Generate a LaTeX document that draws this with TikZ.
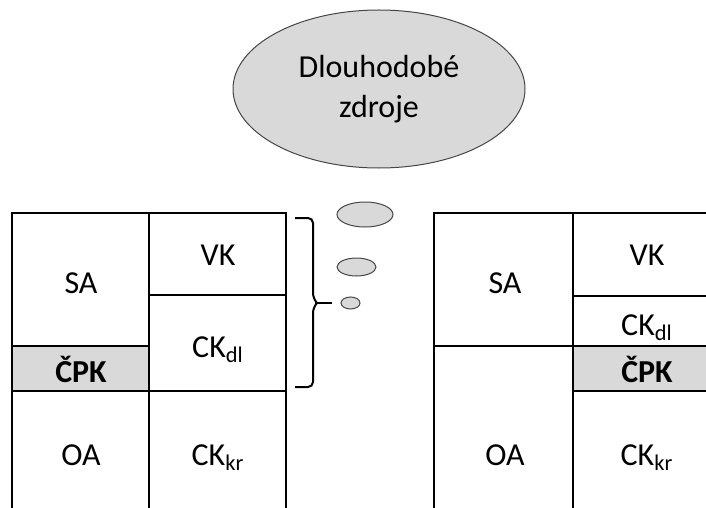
\documentclass[tikz,border=0pt]{standalone}
\usepackage{fontspec}
\setmainfont{Carlito}
\usetikzlibrary{shapes.geometric}
\definecolor{cpkgray}{RGB}{217,217,217}
\definecolor{edgegray}{RGB}{70,70,70}

\tikzset{
  cell/.style={font=\fontsize{16}{19}\selectfont,anchor=base,inner sep=0pt},
  bubble/.style={ellipse,draw=edgegray,fill=cpkgray,line width=0.5pt,inner sep=0pt},
  outer/.style={line width=1.4pt},
  inner/.style={line width=0.6pt},
  braceline/.style={line width=1pt,rounded corners=2.5pt}
}

\begin{document}
\begin{tikzpicture}[x=0.5pt,y=-0.5pt]
  \useasboundingbox (0,0) rectangle (706,508);
  \clip (0,0) rectangle (706,508);
  % thought cloud
  \node[bubble,minimum width=146pt,minimum height=79pt,align=center,
        font=\fontsize{16}{20}\selectfont] (zdroje) at (379,89) {Dlouhodobé\\zdroje};
  \node[bubble,minimum width=28pt,minimum height=12.5pt] (b1) at (365,214.5) {};
  \node[bubble,minimum width=19.5pt,minimum height=9pt] (b2) at (356.5,267) {};
  \node[bubble,minimum width=9.5pt,minimum height=6pt] (b3) at (350.5,303) {};

  % left table
  \fill[cpkgray] (12,346) rectangle (149,391);
  \draw[inner] (149,213) -- (149,510);
  \draw[inner] (149,295) -- (286,295);
  \draw[inner] (12,346) -- (149,346);
  \draw[inner] (12,391) -- (286,391);
  \draw[outer] (12,510) |- (286,213) -- (286,510);
  \node[cell] (saL) at (81,293) {SA};
  \node[cell] (vkL) at (218,265) {VK};
  \node[cell] (ckdlL) at (218,357) {CK\textsubscript{dl}};
  \node[cell] (cpkL) at (81,382) {\textbf{ČPK}};
  \node[cell] (oaL) at (81,465) {OA};
  \node[cell] (ckkrL) at (218,465) {CK\textsubscript{kr}};

  % brace
  \coordinate (bracetop) at (295,218);
  \coordinate (bracebot) at (295,387);
  \coordinate (bracetip) at (332,303);
  \draw[braceline] (bracetop) -- (313,218) -- (313,298) -- (317,303);
  \draw[braceline] (bracebot) -- (313,387) -- (313,308) -- (317,303);
  \draw[line width=1pt] (315,303) -- (bracetip);

  % right table
  \fill[cpkgray] (573,346) rectangle (712,391);
  \draw[inner] (573,213) -- (573,510);
  \draw[inner] (573,296) -- (712,296);
  \draw[inner] (434,346) -- (712,346);
  \draw[inner] (573,391) -- (712,391);
  \draw[outer] (434,510) |- (712,213);
  \node[cell] (saR) at (505,293) {SA};
  \node[cell] (vkR) at (647,265) {VK};
  \node[cell] (ckdlR) at (647,335) {CK\textsubscript{dl}};
  \node[cell] (cpkR) at (647,382) {\textbf{ČPK}};
  \node[cell] (oaR) at (505,465) {OA};
  \node[cell] (ckkrR) at (647,465) {CK\textsubscript{kr}};
\end{tikzpicture}
\end{document}
